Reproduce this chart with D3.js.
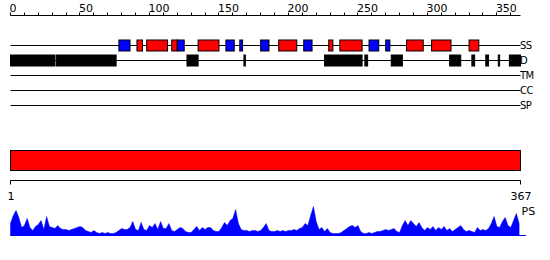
<!DOCTYPE html>
<html>
<head>
<meta charset="utf-8">
<script src="https://cdn.jsdelivr.net/npm/d3@7"></script>
<style>
  html, body { margin: 0; padding: 0; background: #fff; }
  svg { display: block; font-family: "DejaVu Sans", sans-serif; }
</style>
</head>
<body>
<div id="chart"></div>
<script>
(function () {
"use strict";

// Sequence length and axis ticks
var seqLength = 367;
var topTickLabels = [0, 50, 100, 150, 200, 250, 300, 350];

// Secondary structure: H = helix (red), E = strand (blue)
var ssStart = [78, 91, 98, 116, 120, 135, 155, 165, 180, 193, 211, 229, 237, 258, 270, 285, 303, 330];
var ssEnd   = [86, 95, 113, 120, 125, 150, 161, 167, 186, 206, 217, 232, 253, 265, 273, 297, 317, 337];
var ssType  = ["E","H","H","H","E","H","E","E","E","H","E","H","H","E","E","H","H","H"];

// Disordered regions
var disStart = [0, 33, 127, 168, 226, 255, 274, 316, 332, 342, 351, 359];
var disEnd   = [32, 76, 135, 169, 253, 257, 282, 324, 334, 344, 352, 367];

// Track labels
var trackLabels = ["SS", "D", "TM", "CC", "SP"];

// Domain bar (whole chain)
var domainStart = [0];
var domainEnd = [367];

// PS profile, one value every 2 residues starting at residue 1
var psStep = 2;
var psValues = [
  12, 20, 25, 18, 8, 10, 17, 8, 5, 9, 11, 15, 6, 19, 9, 8, 7, 10, 7, 6,
  6, 5, 6, 7, 8, 9, 8, 5, 4, 3, 5, 3, 2, 3, 2, 3, 2, 2, 3, 5,
  7, 6, 6, 8, 14, 6, 5, 13, 6, 5, 10, 8, 12, 6, 14, 7, 7, 12, 5, 4,
  6, 8, 7, 4, 3, 3, 6, 9, 5, 8, 6, 8, 8, 5, 4, 4, 8, 13, 10, 15,
  17, 26, 12, 6, 5, 5, 4, 5, 5, 4, 5, 8, 12, 5, 4, 4, 5, 4, 5, 4,
  5, 5, 6, 5, 7, 8, 12, 10, 20, 29, 14, 6, 8, 4, 7, 3, 2, 2, 2, 3,
  5, 7, 9, 10, 8, 10, 4, 2, 2, 3, 2, 3, 4, 4, 5, 6, 5, 6, 7, 4,
  3, 10, 15, 10, 15, 12, 9, 13, 8, 5, 8, 6, 9, 5, 8, 6, 9, 5, 7, 4,
  6, 8, 10, 6, 4, 5, 4, 3, 8, 5, 6, 5, 7, 12, 19, 9, 8, 14, 18, 10,
  8, 15, 22, 12
];

var fullWidth = 550,
    fullHeight = 260;

var xScale = d3.scaleLinear()
  .domain([0, seqLength])
  .range([10.5, 520.5]);

var svg = d3.select("#chart").append("svg")
  .attr("width", fullWidth)
  .attr("height", fullHeight)
  .attr("viewBox", "0 0 " + fullWidth + " " + fullHeight);

// Top ruler
var rulerY = 15.5;
svg.append("line")
  .attr("x1", xScale(0)).attr("x2", xScale(seqLength))
  .attr("y1", rulerY).attr("y2", rulerY)
  .style("stroke", "#000").style("stroke-width", 1);

svg.append("g")
  .selectAll("line")
  .data(d3.range(0, seqLength, 10))
  .enter().append("line")
    .attr("x1", function(d) { return Math.round(xScale(d) - 0.5) + 0.5; })
    .attr("x2", function(d) { return Math.round(xScale(d) - 0.5) + 0.5; })
    .attr("y1", rulerY - 3)
    .attr("y2", rulerY)
    .style("stroke", "#000").style("stroke-width", 1);

svg.append("g")
  .selectAll("text")
  .data(topTickLabels)
  .enter().append("text")
    .attr("x", function(d) { return xScale(d) - 1; })
    .attr("y", 11.5)
    .style("font-size", "11px")
    .style("fill", "#000")
    .text(function(d) { return d; });

// Track lines and labels
var trackY = [45.5, 60.5, 75.5, 90.5, 105.5];

svg.append("g")
  .selectAll("line")
  .data(trackY)
  .enter().append("line")
    .attr("x1", xScale(0)).attr("x2", xScale(seqLength))
    .attr("y1", function(d) { return d; })
    .attr("y2", function(d) { return d; })
    .style("stroke", "#000").style("stroke-width", 1);

svg.append("g")
  .selectAll("text")
  .data(trackLabels)
  .enter().append("text")
    .attr("x", 520)
    .attr("y", function(d, i) { return trackY[i] + 3.5; })
    .style("font-size", "10px")
    .style("letter-spacing", "-0.5px")
    .style("fill", "#000")
    .text(function(d) { return d; });

var boxH = 11;

// Secondary structure boxes
svg.append("g")
  .selectAll("rect")
  .data(d3.range(ssStart.length))
  .enter().append("rect")
    .attr("x", function(i) { return xScale(ssStart[i]); })
    .attr("y", trackY[0] - boxH / 2)
    .attr("width", function(i) { return xScale(ssEnd[i]) - xScale(ssStart[i]); })
    .attr("height", boxH)
    .style("fill", function(i) { return ssType[i] === "H" ? "#ff0000" : "#0000ff"; })
    .style("stroke", "#000")
    .style("stroke-width", 1);

// Disorder boxes
svg.append("g")
  .selectAll("rect")
  .data(d3.range(disStart.length))
  .enter().append("rect")
    .attr("x", function(i) { return xScale(disStart[i]); })
    .attr("y", trackY[1] - boxH / 2)
    .attr("width", function(i) { return xScale(disEnd[i]) - xScale(disStart[i]); })
    .attr("height", boxH)
    .style("fill", "#000")
    .style("stroke", "#000")
    .style("stroke-width", 1);

// Domain bar
svg.append("g")
  .selectAll("rect")
  .data(d3.range(domainStart.length))
  .enter().append("rect")
    .attr("x", function(i) { return xScale(domainStart[i]); })
    .attr("y", 150.5)
    .attr("width", function(i) { return xScale(domainEnd[i]) - xScale(domainStart[i]); })
    .attr("height", 20)
    .style("fill", "#ff0000")
    .style("stroke", "#000")
    .style("stroke-width", 1);

// Bottom bracket with sequence ends
var bracketY = 180.5;
svg.append("path")
  .attr("d", "M" + xScale(0) + "," + (bracketY + 4) + "V" + bracketY +
             "H" + xScale(seqLength) + "V" + (bracketY + 4))
  .style("fill", "none")
  .style("stroke", "#000")
  .style("stroke-width", 1);

svg.append("g")
  .selectAll("text")
  .data([[0, "1"], [seqLength, String(seqLength)]])
  .enter().append("text")
    .attr("x", function(d) { return xScale(d[0]) + 0.5; })
    .attr("y", 200)
    .style("font-size", "11px")
    .style("text-anchor", "middle")
    .style("fill", "#000")
    .text(function(d) { return d[1]; });

// PS profile
var psBase = 235.5;
var yScale = d3.scaleLinear()
  .domain([0, 30])
  .range([psBase, psBase - 30]);

var psData = psValues.map(function(v, i) { return { r: 1 + i * psStep, v: v }; });

svg.append("path")
  .datum(psData)
  .attr("d", d3.area()
    .x(function(d) { return xScale(d.r - 1); })
    .y0(psBase)
    .y1(function(d) { return yScale(d.v); }))
  .style("fill", "#0000ff")
  .style("stroke", "#0000ff")
  .style("stroke-width", 0.5);

svg.append("line")
  .attr("x1", xScale(0)).attr("x2", 526)
  .attr("y1", psBase).attr("y2", psBase)
  .style("stroke", "#0000ff").style("stroke-width", 1);

svg.append("text")
  .attr("x", 521.5)
  .attr("y", 215)
  .style("font-size", "11px")
  .style("fill", "#000")
  .text("PS");

})();
</script>
</body>
</html>
